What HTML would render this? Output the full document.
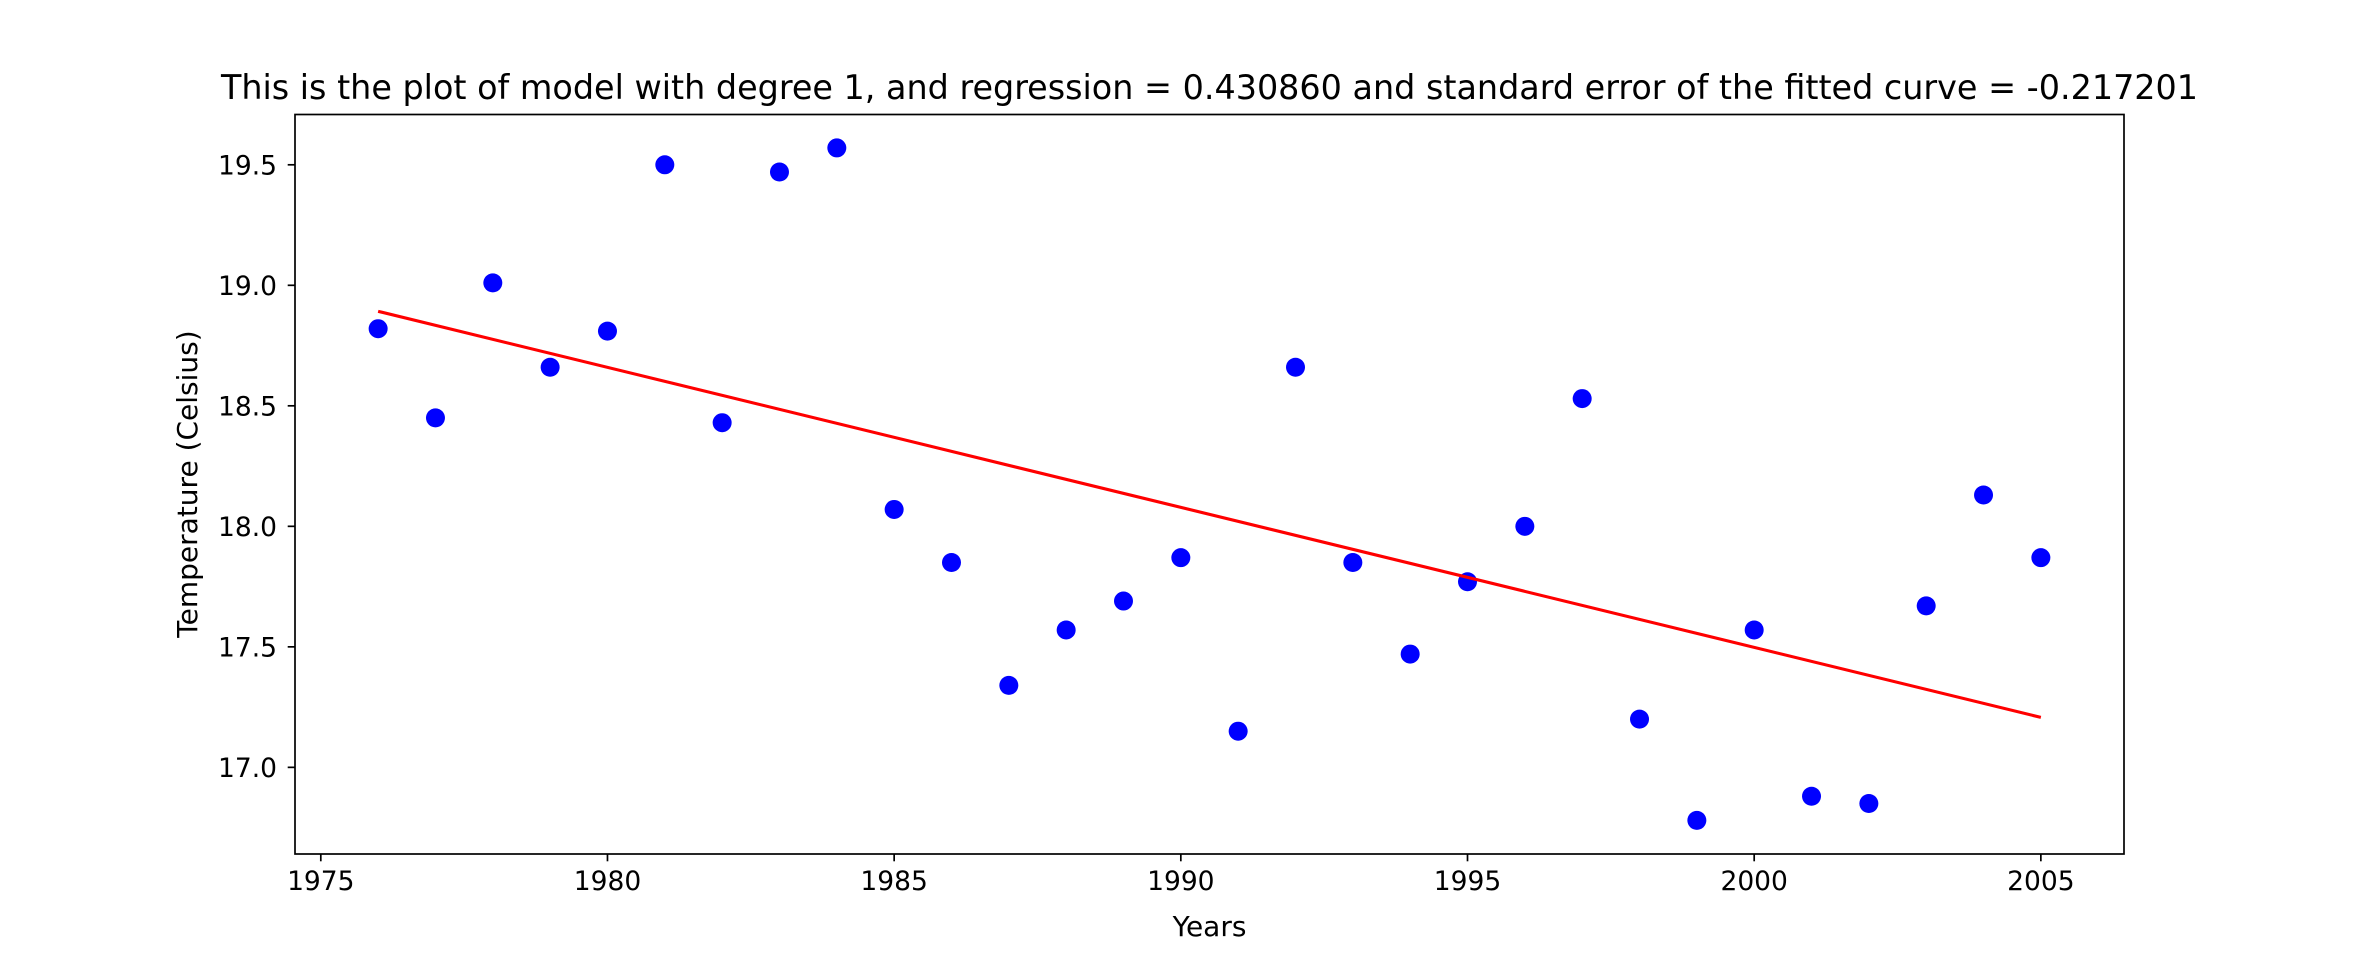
<!DOCTYPE html>
<html><head><meta charset="utf-8"><style>
html,body{margin:0;padding:0;background:#fff;}
svg{display:block;font-family:"DejaVu Sans","Liberation Sans",sans-serif;}
</style></head><body>
<svg id="chart" width="2360" height="960" viewBox="0 0 2360 960">
<rect width="2360" height="960" fill="#fff"/>
<text x="1209.5" y="99" font-size="33.4" text-anchor="middle" fill="#000">This is the plot of model with degree 1, and regression = 0.430860 and standard error of the fitted curve = -0.217201</text>
<g id="ticks"></g>
<g id="marks"></g>
<rect x="295" y="114.5" width="1829" height="739.5" fill="none" stroke="#000" stroke-width="1.7"/>
<text x="1209.5" y="936" font-size="28" text-anchor="middle" fill="#000">Years</text>
<text x="0" y="0" font-size="28" text-anchor="middle" fill="#000" transform="translate(197,484) rotate(-90)">Temperature (Celsius)</text>
</svg>
<script>
const years = [1976,1977,1978,1979,1980,1981,1982,1983,1984,1985,1986,1987,1988,1989,1990,1991,1992,1993,1994,1995,1996,1997,1998,1999,2000,2001,2002,2003,2004,2005];
const temps = [18.82,18.45,19.01,18.66,18.81,19.50,18.43,19.47,19.57,18.07,17.85,17.34,17.57,17.69,17.87,17.15,18.66,17.85,17.47,17.77,18.00,18.53,17.20,16.78,17.57,16.88,16.85,17.67,18.13,17.87];
const xTicks = [1975,1980,1985,1990,1995,2000,2005];
const yTicks = [17.0,17.5,18.0,18.5,19.0,19.5];
const yTickLabels = ["17.0","17.5","18.0","18.5","19.0","19.5"];

const L=295,R=2124,T=114.3,B=854;
const xmin=Math.min(...years),xmax=Math.max(...years),xp=(xmax-xmin)*0.05;
const ymin=Math.min(...temps),ymax=Math.max(...temps),yp=(ymax-ymin)*0.05;
const X=v=>L+(v-(xmin-xp))/((xmax+xp)-(xmin-xp))*(R-L);
const Y=v=>B-(v-(ymin-yp))/((ymax+yp)-(ymin-yp))*(B-T);
const NS='http://www.w3.org/2000/svg';
const tg=document.getElementById('ticks'),mg=document.getElementById('marks');
function mk(tag,attrs,parent){const e=document.createElementNS(NS,tag);for(const k in attrs)e.setAttribute(k,attrs[k]);parent.appendChild(e);return e;}
xTicks.forEach(t=>{
  const l=mk('line',{x1:X(t),x2:X(t),y1:B,y2:B+7.3,stroke:'#000','stroke-width':1.7},tg);
  
  
  const s=mk('text',{x:X(t),y:B+36,'font-size':26.5,'text-anchor':'middle',fill:'#000'},tg);
  s.textContent=String(t);
  
  
});
yTicks.forEach((t,i)=>{
  const l=mk('line',{x1:L-7.3,x2:L,y1:Y(t),y2:Y(t),stroke:'#000','stroke-width':1.7},tg);
  
  
  const s=mk('text',{x:L-18,y:Y(t)+9.5,'font-size':26.5,'text-anchor':'end',fill:'#000'},tg);
  s.textContent=yTickLabels[i];
  
  
});
const n=years.length,mx=years.reduce((a,b)=>a+b)/n,my=temps.reduce((a,b)=>a+b)/n;
let sxy=0,sxx=0;years.forEach((x,i)=>{sxy+=(x-mx)*(temps[i]-my);sxx+=(x-mx)*(x-mx);});
const slope=sxy/sxx,icpt=my-slope*mx;
years.forEach((x,i)=>{
  const c=mk('circle',{cx:X(x),cy:Y(temps[i]),r:9.5,fill:'#0000ff'},mg);
  
  
});
const fl=mk('line',{x1:X(xmin),y1:Y(icpt+slope*xmin),x2:X(xmax),y2:Y(icpt+slope*xmax),stroke:'#ff0000','stroke-width':3.1},mg);


</script>
</body></html>
